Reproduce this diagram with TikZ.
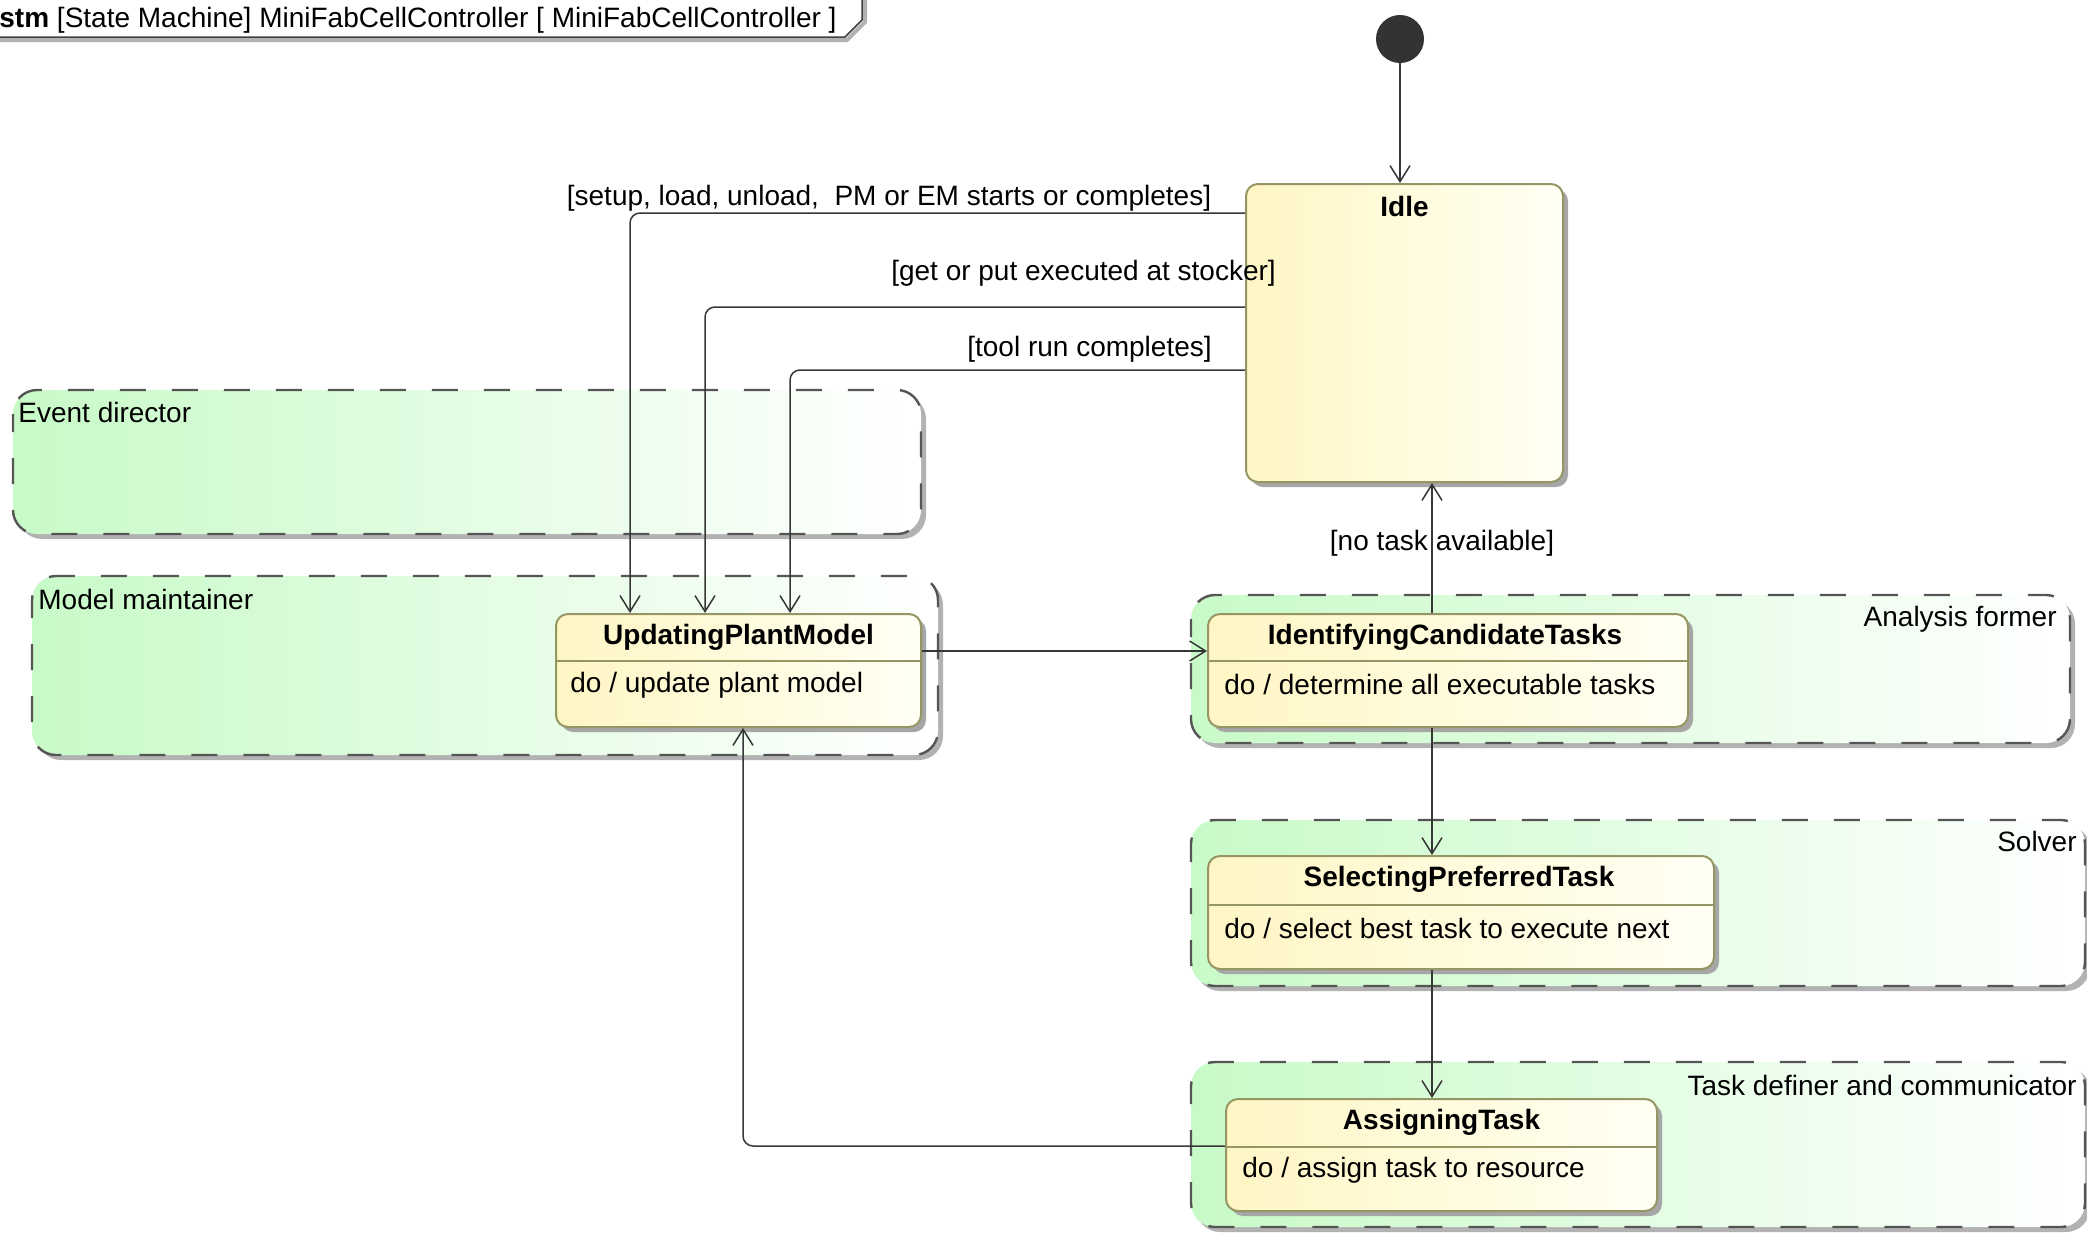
\documentclass[tikz,border=0pt]{standalone}
\usepackage{fontspec}
\setmainfont{Liberation Sans}
\usepackage{tikz}
\usetikzlibrary{arrows.meta, shadows}

\definecolor{stateline}{RGB}{150,150,100}
\definecolor{statetop}{RGB}{255,246,196}
\definecolor{statebot}{RGB}{255,255,244}
\definecolor{regiongreen}{RGB}{200,250,200}
\definecolor{regionline}{RGB}{85,85,85}
\definecolor{wireline}{RGB}{55,55,55}

\newcommand{\diagfont}{\fontsize{14}{16}\selectfont}

\tikzset{
  statebox/.style={draw=stateline, line width=1pt, rounded corners=6pt, inner sep=0pt,
    left color=statetop, right color=statebot,
    drop shadow={shadow xshift=2.5pt, shadow yshift=-2.5pt, fill=black!35, opacity=1}},
  statename/.style={font=\diagfont\bfseries, inner sep=0pt},
  statedo/.style={font=\diagfont, inner sep=0pt, anchor=west},
  region/.style={draw=regionline, line width=1.2pt, dash pattern=on 13pt off 13pt, dash phase=4pt, rounded corners=12pt,
    left color=regiongreen, right color=white,
    drop shadow={shadow xshift=2.5pt, shadow yshift=-2.5pt, fill=black!30, opacity=1}},
  regionname/.style={font=\diagfont, inner sep=0pt},
  guard/.style={font=\diagfont, inner sep=0pt},
  trans/.style={draw=wireline, line width=0.75pt, rounded corners=5pt, -{Straight Barb[length=8pt,width=10pt]}},
  initstate/.style={circle, fill=black!80, minimum size=24pt, inner sep=0pt},
}

\begin{document}
\begin{tikzpicture}[x=0.5pt,y=0.5pt,yscale=-1,xscale=1]
\useasboundingbox (0,0) rectangle (2087,1232);

% Frame label
\draw[black!30, line width=2pt] (0,40) -- (847,40) -- (865,22) -- (865,0);
\draw[black!75, line width=0.75pt] (0,37) -- (845,37) -- (862,20) -- (862,0);
\node[font=\diagfont, inner sep=0pt, anchor=base west] (frametitle) at (-1,27) {\textbf{stm} [State Machine] MiniFabCellController [ MiniFabCellController ]};

% Regions
\path[region] (13,390) rectangle (921,534);
\path[region] (32,576) rectangle (938,755);
\path[region] (1191,595) rectangle (2070,743);
\path[region] (1191,820) rectangle (2085,986);
\path[region] (1191,1062) rectangle (2085,1227);

\node[regionname, anchor=west] (evdir) at (18,412) {Event director};
\node[regionname, anchor=west] (modmnt) at (38,599) {Model maintainer};
\node[regionname, anchor=east] (anform) at (2057,619) {Analysis former};
\node[regionname, anchor=east] (solver) at (2077,841) {Solver};
\node[regionname, anchor=east] (taskdef) at (2077,1085) {Task definer and communicator};

% Initial state
\node[initstate] (init) at (1400,39) {};

% State: Idle
\node[statebox, minimum width=158.5pt, minimum height=149pt] (idle) at (1404.5,333) {};
\node[statename] (idlename) at (1404.5,206) {Idle};

% State: UpdatingPlantModel
\node[statebox, minimum width=182.5pt, minimum height=56.5pt] (upd) at (738.5,670.5) {};
\node[statename] (updname) at (738.5,637) {UpdatingPlantModel};
\draw[stateline, line width=1pt] (upd.west |- 0,661) -- (upd.east |- 0,661);
\node[statedo] (upddo) at (570,685) {do / update plant model};

% State: IdentifyingCandidateTasks
\node[statebox, minimum width=240pt, minimum height=56.5pt] (ident) at (1448,670.5) {};
\node[statename] (identname) at (1445,637) {IdentifyingCandidateTasks};
\draw[stateline, line width=1pt] (ident.west |- 0,661) -- (ident.east |- 0,661);
\node[statedo] (identdo) at (1224,684) {do / determine all executable tasks};

% State: SelectingPreferredTask
\node[statebox, minimum width=253pt, minimum height=56.5pt] (sel) at (1461,912.5) {};
\node[statename] (selname) at (1459,879) {SelectingPreferredTask};
\draw[stateline, line width=1pt] (sel.west |- 0,905) -- (sel.east |- 0,905);
\node[statedo] (seldo) at (1224,928) {do / select best task to execute next};

% State: AssigningTask
\node[statebox, minimum width=215.5pt, minimum height=56pt] (asg) at (1441.5,1155) {};
\node[statename] (asgname) at (1441.5,1122) {AssigningTask};
\draw[stateline, line width=1pt] (asg.west |- 0,1147) -- (asg.east |- 0,1147);
\node[statedo] (asgdo) at (1242,1170) {do / assign task to resource};

% Transitions
\draw[trans] (init) -- (init |- idle.north);
\draw[trans] (idle.west |- 0,213) -| (630,213 |- upd.north);
\draw[trans] (idle.west |- 0,307) -| (705,307 |- upd.north);
\draw[trans] (idle.west |- 0,370) -| (790,370 |- upd.north);
\draw[trans] (upd.east |- 0,651) -- (ident.west |- 0,651);
\draw[trans] (ident.north -| 1432,0) -- (idle.south -| 1432,0);
\draw[trans] (ident.south -| 1432,0) -- (sel.north -| 1432,0);
\draw[trans] (sel.south -| 1432,0) -- (asg.north -| 1432,0);
\draw[trans] (asg.west |- 0,1146) -| (743,1146 |- upd.south);

% Guards
\node[guard] (gsetup) at (889,198) {[setup, load, unload,\ \ PM or EM starts or completes]};
\node[guard] (gstock) at (1083.5,273) {[get or put executed at stocker]};
\node[guard] (gtool) at (1089.5,349) {[tool run completes]};
\node[guard] (gnotask) at (1442,543) {[no task available]};

\end{tikzpicture}
\end{document}
